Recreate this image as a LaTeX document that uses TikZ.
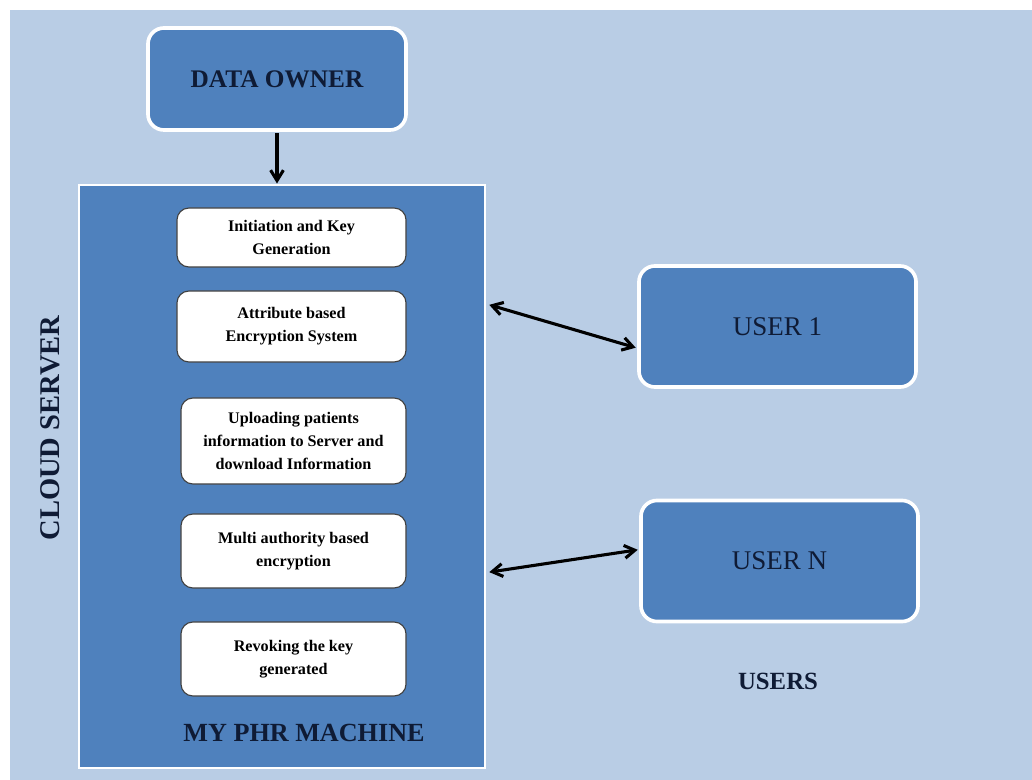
\documentclass[tikz,border=0pt]{standalone}
\usepackage{fontspec}
\setmainfont{Liberation Serif}
\usepackage{tikz}
\usetikzlibrary{arrows.meta}
\tikzset{>={Straight Barb[length=2.6mm,width=3.2mm]}}
\definecolor{bgblue}{HTML}{B9CDE5}
\definecolor{boxblue}{HTML}{4F81BD}
\definecolor{navy}{HTML}{0F1B35}
\tikzset{
  bigbox/.style={draw=white, line width=2.6pt, fill=boxblue, rounded corners=0.4cm, text=navy},
  stepbox/.style={draw=black!75, line width=0.8pt, fill=white, rounded corners=0.3cm, align=center, font=\bfseries\fontsize{11.5}{16.5}\selectfont},
  link/.style={line width=2.2pt, black}
}

\begin{document}
\begin{tikzpicture}[x=0.025cm, y=-0.025cm]
    \useasboundingbox (0,0) rectangle (1032,780);
    \fill[bgblue] (10,10) rectangle (1032,780);

    \node[bigbox, minimum width=6.45cm, minimum height=2.55cm, font=\bfseries\fontsize{18}{21}\selectfont] (owner) at (277,79) {DATA OWNER};
    \node[draw=white, line width=2pt, fill=boxblue, minimum width=10.15cm, minimum height=14.575cm] (server) at (282,476.5) {};

    \node[stepbox, minimum width=5.725cm, minimum height=1.475cm] (keygen) at (291.5,237.5) {Initiation and Key\\Generation};
    \node[stepbox, minimum width=5.725cm, minimum height=1.775cm] (abe) at (291.5,326.5) {Attribute based\\Encryption System};
    \node[stepbox, minimum width=5.625cm, minimum height=2.15cm] (upload) at (293.5,441) {Uploading patients\\information to Server and\\download Information};
    \node[stepbox, minimum width=5.625cm, minimum height=1.85cm] (multi) at (293.5,551) {Multi authority based\\encryption};
    \node[stepbox, minimum width=5.625cm, minimum height=1.85cm] (revoke) at (293.5,659) {Revoking the key\\generated};

    \node[text=navy, font=\bfseries\fontsize{18.6}{22}\selectfont] (phr) at (304,733) {MY PHR MACHINE};
    \node[text=navy, rotate=90, font=\bfseries\fontsize{20.3}{24}\selectfont] (cloud) at (50,428) {CLOUD SERVER};

    \node[bigbox, minimum width=6.925cm, minimum height=3.025cm, font=\fontsize{19.2}{23}\selectfont] (user1) at (777.5,326.5) {USER 1};
    \node[bigbox, minimum width=6.925cm, minimum height=3.025cm, font=\fontsize{19.2}{23}\selectfont] (usern) at (779.5,561) {USER N};
    \node[text=navy, font=\bfseries\fontsize{17.6}{21}\selectfont] (users) at (778,681) {USERS};

    % owner to server
    \draw[link, ->] ([yshift=-1pt]owner.south) -- (owner.south |- server.north);
    % server to user 1
    \draw[link, <->] ([xshift=2pt, yshift=4.29cm]server.east) -- ([xshift=-1pt, yshift=-0.53cm]user1.west);
    % server to user n
    \draw[link, <->] ([xshift=2pt, yshift=-2.39cm]server.east) -- ([xshift=-1pt, yshift=0.28cm]usern.west);
\end{tikzpicture}
\end{document}
